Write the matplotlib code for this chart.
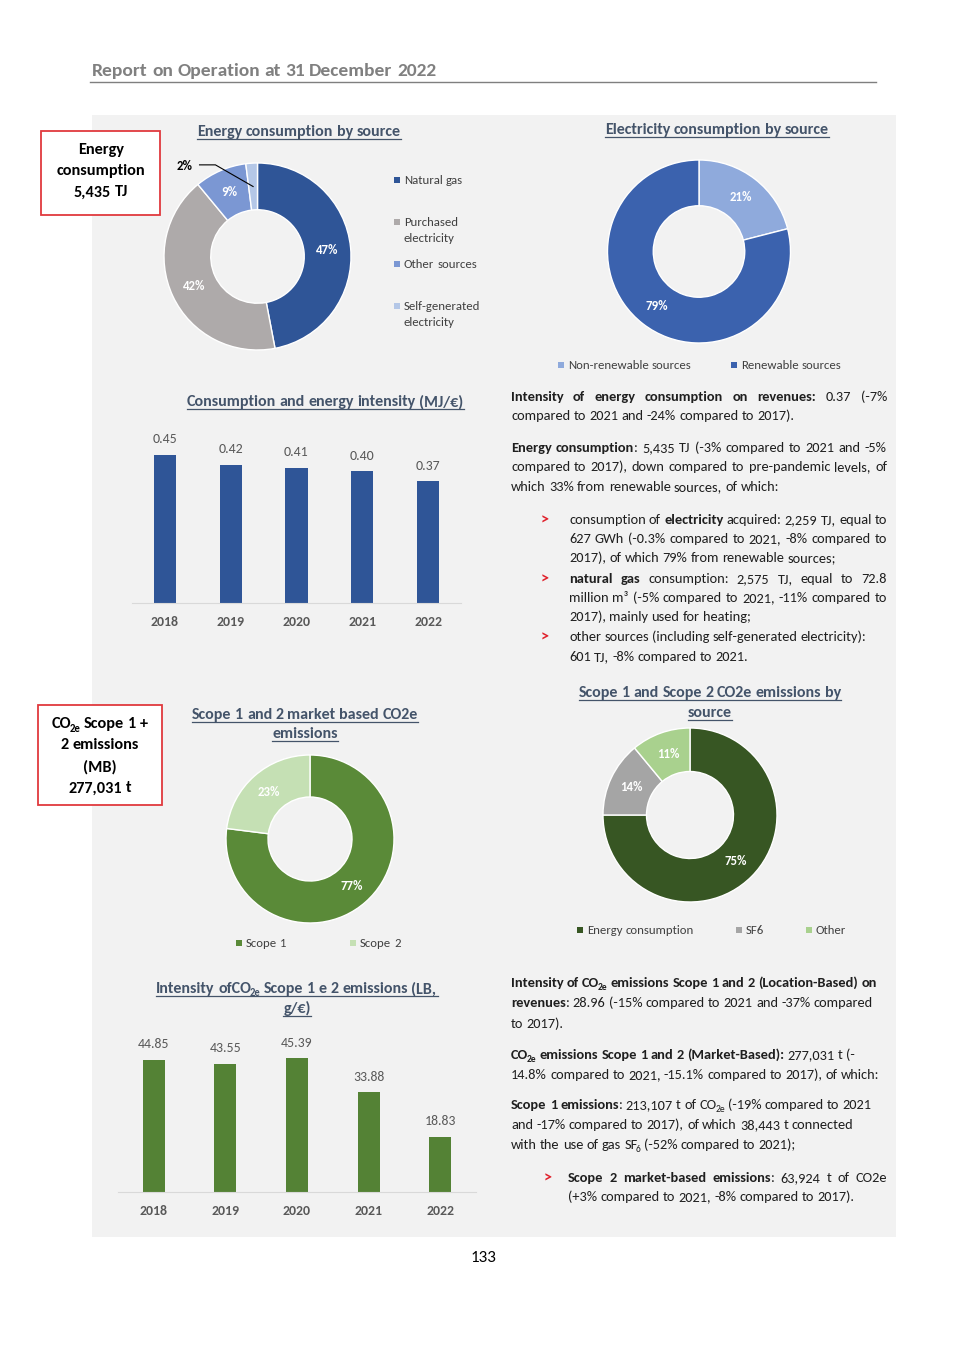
import matplotlib
matplotlib.use('Agg')
import numpy as np
import matplotlib.pyplot as plt
from matplotlib import font_manager as fm
from matplotlib.patches import Rectangle
from matplotlib.lines import Line2D

# --- data -------------------------------------------------------------
energy_sources = ['Natural gas', 'Purchased\nelectricity', 'Other sources', 'Self-generated\nelectricity']
energy_share = [47, 42, 9, 2]
elec_sources = ['Non-renewable sources', 'Renewable sources']
elec_share = [21, 79]
years = ['2018', '2019', '2020', '2021', '2022']
energy_intensity = [0.45, 0.42, 0.41, 0.40, 0.37]
scope_labels = ['Scope 1', 'Scope 2']
scope_share = [77, 23]
emission_sources = ['Energy consumption', 'SF6', 'Other']
emission_share = [75, 14, 11]
co2_intensity = [44.85, 43.55, 45.39, 33.88, 18.83]


# pick a family that really has a bold face
def has_bold(fam):
    try:
        b = fm.findfont(fm.FontProperties(family=fam, weight='bold'), fallback_to_default=False)
        r = fm.findfont(fm.FontProperties(family=fam, weight='normal'), fallback_to_default=False)
    except Exception:
        return False
    return b != r


MAIN = next((f for f in ['Carlito', 'Lato', 'Roboto', 'Open Sans', 'Noto Sans', 'Liberation Sans']
             if has_bold(f)), 'DejaVu Sans')

# --- page setup -------------------------------------------------------
W, H = 965, 1365
FONT = [MAIN, 'DejaVu Sans']
TXT = '#1f1f1f'
TITLE = '#44546a'
GREY = '#595959'
RED = '#e0202b'
BODY = 10.4
TSIZE = 11.5

fig = plt.figure(figsize=(W / 100, H / 100), dpi=100)
fig.patch.set_facecolor('white')
renderer = fig.canvas.get_renderer()


def fx(x):
    return x / W


def fy(y):
    return 1 - y / H


def rect(x0, y0, x1, y1, **kw):
    fig.patches.append(Rectangle((fx(x0), fy(y1)), (x1 - x0) / W, (y1 - y0) / H,
                                 transform=fig.transFigure, **kw))


def hline(x0, x1, y, color, lw):
    fig.add_artist(Line2D([fx(x0), fx(x1)], [fy(y), fy(y)], color=color, lw=lw))


def parse(markup):
    # **bold** and _{sub}
    runs, buf, bold, i = [], '', False, 0
    while i < len(markup):
        if markup.startswith('**', i):
            if buf:
                runs.append((buf, bold, False))
                buf = ''
            bold = not bold
            i += 2
        elif markup.startswith('_{', i):
            if buf:
                runs.append((buf, bold, False))
                buf = ''
            j = markup.index('}', i)
            runs.append((markup[i + 2:j], bold, True))
            i = j + 1
        else:
            buf += markup[i]
            i += 1
    if buf:
        runs.append((buf, bold, False))
    words = [[]]
    for text, bold, sub in runs:
        for k, part in enumerate(text.split(' ')):
            if k > 0:
                words.append([])
            if part:
                words[-1].append((part, bold, sub))
    return [w for w in words if w]


_cache = {}


def raw_w(s, size, bold):
    key = (s, size, bold)
    if key not in _cache:
        t = fig.text(0, 0, s, fontsize=size, fontweight='bold' if bold else 'normal', family=FONT)
        _cache[key] = t.get_window_extent(renderer).width
        t.remove()
    return _cache[key]


def width_of(s, size, bold):
    # advance width, bearings included
    return raw_w('|' + s + '|', size, bold) - raw_w('||', size, bold)


SUB = 0.66


def draw_line(x, y, markup, size=BODY, color=TXT, align='left', right=None, underline=False):
    words = parse(markup)
    piece_w = [[width_of(p, size * SUB if sub else size, b) for p, b, sub in w] for w in words]
    word_w = [sum(pw) for pw in piece_w]
    space = width_of(' ', size, False)
    if right is not None and len(words) > 1:
        gap = (right - x - sum(word_w)) / (len(words) - 1)
    else:
        gap = space
    total = sum(word_w) + gap * (len(words) - 1)
    px = x - total / 2 if align == 'center' else x
    start = px
    spx = size * 100 / 72
    base = y + spx * 0.33
    for w, pw in zip(words, piece_w):
        for k, ((p, b, sub), wp) in enumerate(zip(w, pw)):
            s = size * SUB if sub else size
            yy = base + (spx * 0.2 if sub else 0)
            nudge = -1.5 if (sub and k > 0) else 0
            fig.text(fx(px + nudge), fy(yy), p, fontsize=s, fontweight='bold' if b else 'normal',
                     color=color, family=FONT, va='baseline', ha='left')
            px += wp + nudge
        px += gap
    if underline:
        hline(start, start + total, base + 2.5, color, 0.9)


def legend_item(x, y, color, label, size=9.2):
    rect(x, y - 3, x + 6, y + 3, facecolor=color, edgecolor='none')
    for k, line in enumerate(label.split('\n')):
        draw_line(x + 10, y + k * 16, line, size=size, color='#404040')


def donut(cx, cy, r, values, colors):
    ax = fig.add_axes([(cx - r) / W, (H - cy - r) / H, 2 * r / W, 2 * r / H])
    wedges, _, autotexts = ax.pie(values, colors=colors, startangle=90, counterclock=False,
                                  autopct='%.0f%%', pctdistance=0.75,
                                  wedgeprops=dict(width=0.5, edgecolor='white', linewidth=1),
                                  textprops=dict(color='white', fontweight='bold',
                                                 fontsize=9.3, family=FONT))
    ax.set_xlim(-1, 1)
    ax.set_ylim(-1, 1)
    ax.axis('off')
    return ax, wedges, autotexts


def bars(left, right, bottom, top, values, color, ymax, fmt, width):
    ax = fig.add_axes([left / W, (H - bottom) / H, (right - left) / W, (bottom - top) / H])
    xs = list(range(len(years)))
    ax.bar(xs, values, width=width, color=color)
    ax.set_xlim(-0.5, len(years) - 0.5)
    ax.set_ylim(0, ymax)
    for side in ['top', 'right', 'left']:
        ax.spines[side].set_visible(False)
    ax.spines['bottom'].set_color('#d9d9d9')
    ax.set_yticks([])
    ax.set_xticks(xs)
    ax.set_xticklabels(years, fontweight='bold', color=GREY, fontsize=10, family=FONT)
    ax.tick_params(axis='x', length=0, pad=9.5)
    ax.patch.set_alpha(0)
    for i, v in enumerate(values):
        ax.annotate(fmt.format(v), (i, v), xytext=(0, 7), textcoords='offset points',
                    ha='center', va='bottom', color=GREY, fontsize=10, family=FONT)
    return ax


# --- page frame -------------------------------------------------------
rect(92, 115, 896, 1237, facecolor='#f2f2f2', edgecolor='none', zorder=-1)
draw_line(92, 70, '**Report on Operation at 31 December 2022**', size=14, color='#808080')
hline(90, 876, 82, '#7f7f7f', 1)
draw_line(483, 1256, '133', size=12.3, align='center', color='#000000')

# red boxes
rect(41, 131, 160, 215, facecolor='white', edgecolor='#e0393e', lw=1.3)
for y, s in zip([149, 170, 191], ['Energy', 'consumption', '5,435 TJ']):
    draw_line(101, y, '**' + s + '**', size=11.7, align='center', color='#000000')
rect(38, 705, 162, 805, facecolor='white', edgecolor='#e0393e', lw=1.3)
for y, s in zip([723, 744, 766, 787], ['CO_{2e} Scope 1 +', '2 emissions', '(MB)', '277,031 t']):
    draw_line(100, y, '**' + s + '**', size=11.7, align='center', color='#000000')

# --- energy consumption donut ----------------------------------------
draw_line(299, 131, '**Energy consumption by source**', size=TSIZE, color=TITLE, align='center', underline=True)
energy_colors = ['#2f5597', '#aeaaaa', '#7b97d3', '#b4c7e7']
ax, wedges, autotexts = donut(257.5, 256.5, 93.5, energy_share, energy_colors)
small = wedges[-1]
mid = np.radians((small.theta1 + small.theta2) / 2)
autotexts[-1].set_position((-0.78, 0.97))
autotexts[-1].set_color('black')
ax.plot([-0.62, -0.45, 0.75 * np.cos(mid)], [0.98, 0.98, 0.75 * np.sin(mid)],
        color='black', lw=0.8, clip_on=False)
for y, c, lab in zip([180, 222, 264, 306], energy_colors, energy_sources):
    legend_item(394, y, c, lab)

# --- electricity donut -----------------------------------------------
draw_line(717, 129, '**Electricity consumption by source**', size=TSIZE, color=TITLE, align='center', underline=True)
elec_colors = ['#8faadc', '#3b62ae']
donut(699, 251.5, 91.5, elec_share, elec_colors)
for x, c, lab in zip([558, 731], elec_colors, elec_sources):
    legend_item(x, 365, c, lab)

# --- energy intensity bars -------------------------------------------
draw_line(325, 401, '**Consumption and energy intensity (MJ/€)**', size=TSIZE, color=TITLE, align='center', underline=True)
bars(132, 461, 603, 430, energy_intensity, '#2f5597', 0.45 * 173 / 148, '{:.2f}', 0.335)

# --- scope 1/2 donut -------------------------------------------------
draw_line(305, 714, '**Scope 1 and 2 market based CO2e**', size=TSIZE, color=TITLE, align='center', underline=True)
draw_line(305, 733, '**emissions**', size=TSIZE, color=TITLE, align='center', underline=True)
scope_colors = ['#5a8a38', '#c5e0b4']
donut(310, 839, 84, scope_share, scope_colors)
for x, c, lab in zip([236, 350], scope_colors, scope_labels):
    legend_item(x, 943, c, lab)

# --- emissions by source donut ---------------------------------------
draw_line(710, 692, '**Scope 1 and Scope 2 CO2e emissions by**', size=TSIZE, color=TITLE, align='center', underline=True)
draw_line(710, 712, '**source**', size=TSIZE, color=TITLE, align='center', underline=True)
emission_colors = ['#375623', '#a5a5a5', '#a9d18e']
donut(690, 815, 87, emission_share, emission_colors)
for x, c, lab in zip([577, 736, 806], emission_colors, emission_sources):
    legend_item(x, 930, c, lab)

# --- CO2 intensity bars ----------------------------------------------
draw_line(297, 988, '**Intensity ofCO_{2e} Scope 1 e 2 emissions (LB,**', size=TSIZE, color=TITLE, align='center', underline=True)
draw_line(297, 1008, '**g/€)**', size=TSIZE, color=TITLE, align='center', underline=True)
bars(118, 476, 1192, 1030, co2_intensity, '#548235', 44.85 * 162 / 132, '{:.2f}', 0.31)

# --- text column ------------------------------------------------------
L, R = 511, 887
BX = 569
upper = [
    (396, L, '**Intensity of energy consumption on revenues:** 0.37 (-7%', True, False),
    (415, L, 'compared to 2021 and -24% compared to 2017).', False, False),
    (447, L, '**Energy consumption**: 5,435 TJ (-3% compared to 2021 and -5%', True, False),
    (466, L, 'compared to 2017), down compared to pre-pandemic levels, of', True, False),
    (486, L, 'which 33% from renewable sources, of which:', False, False),
    (519, BX, 'consumption of **electricity** acquired: 2,259 TJ, equal to', True, True),
    (538, BX, '627 GWh (-0.3% compared to 2021, -8% compared to', True, False),
    (557, BX, '2017), of which 79% from renewable sources;', False, False),
    (578, BX, '**natural gas** consumption: 2,575 TJ, equal to 72.8', True, True),
    (597, BX, 'million m³ (-5% compared to 2021, -11% compared to', True, False),
    (616, BX, '2017), mainly used for heating;', False, False),
    (636, BX, 'other sources (including self-generated electricity):', False, True),
    (656, BX, '601 TJ, -8% compared to 2021.', False, False),
]
lower = [
    (982, L, '**Intensity of CO_{2e} emissions Scope 1 and 2 (Location-Based) on**', False, False),
    (1002, L, '**revenues**: 28.96 (-15% compared to 2021 and -37% compared', False, False),
    (1023, L, 'to 2017).', False, False),
    (1054, L, '**CO_{2e} emissions Scope 1 and 2 (Market-Based):** 277,031 t (-', False, False),
    (1074, L, '14.8% compared to 2021, -15.1% compared to 2017), of which:', False, False),
    (1104, L, '**Scope 1 emissions**: 213,107 t of CO_{2e} (-19% compared to 2021', False, False),
    (1124, L, 'and -17% compared to 2017), of which 38,443 t connected', False, False),
    (1144, L, 'with the use of gas SF_{6} (-52% compared to 2021);', False, False),
    (1177, 568, '**Scope 2 market-based emissions**: 63,924 t of CO2e', True, True),
    (1196, 568, '(+3% compared to 2021, -8% compared to 2017).', False, False),
]
for y, x, s, just, bullet in upper + lower:
    draw_line(x, y, s, right=R if just else None)
    if bullet:
        draw_line(541 if y < 900 else 544, y, '**>**', size=11.5, color=RED)

fig.savefig('out.png', dpi=100, facecolor='white')
